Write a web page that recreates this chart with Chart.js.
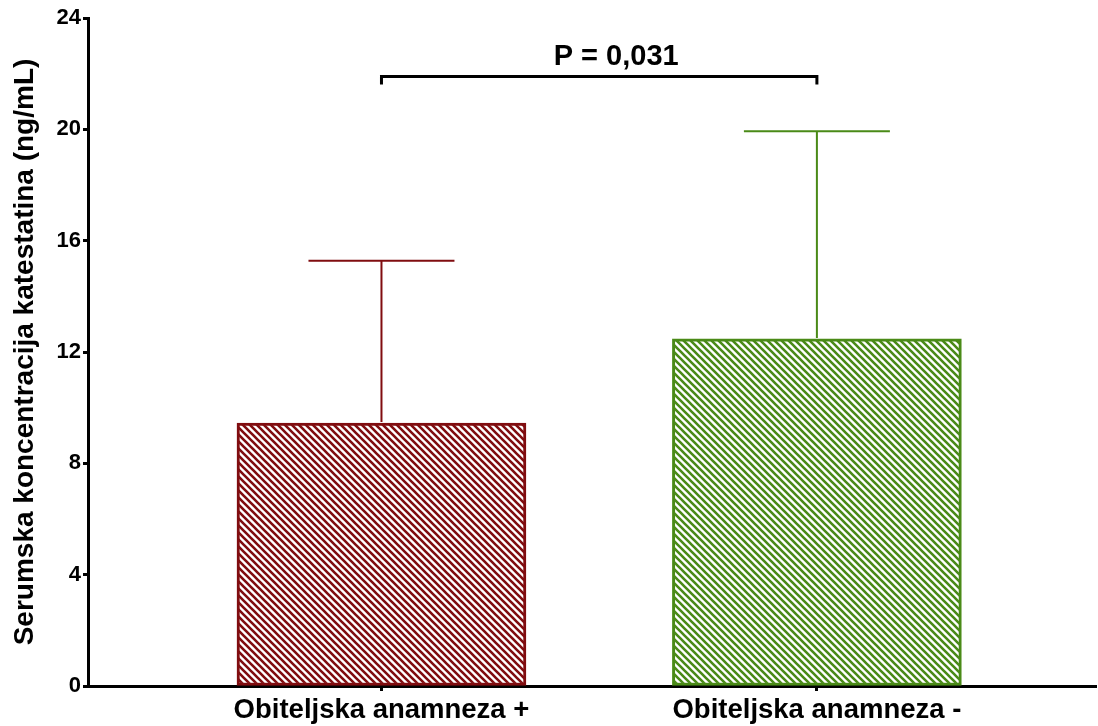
<!DOCTYPE html>
<html>
<head>
<meta charset="utf-8">
<script src="https://cdn.jsdelivr.net/npm/chart.js@4/dist/chart.umd.min.js"></script>
<style>
  html, body { margin: 0; padding: 0; background: #fff; }
  #wrap { width: 1098px; height: 726px; }
</style>
</head>
<body>
<div id="wrap"><canvas id="chart" width="1098" height="726"></canvas></div>
<script>
// data
const categories = ["Obiteljska anamneza +", "Obiteljska anamneza -"];
const means = [9.45, 12.47];
const sds = [5.83, 7.46];
const yTicks = [0, 4, 8, 12, 16, 20, 24];
const pLabel = "P = 0,031";
const bracketValue = 21.9;

const colors = ["#800d10", "#4a8a17"];
const FONT = "'Liberation Sans', Arial, sans-serif";

function hatch(color) {
  const s = 7;
  const c = document.createElement("canvas");
  c.width = s; c.height = s;
  const g = c.getContext("2d");
  g.fillStyle = "#fff";
  g.fillRect(0, 0, s, s);
  g.strokeStyle = color;
  g.lineWidth = 2.6;
  g.beginPath();
  g.moveTo(-s, 0); g.lineTo(s, 2 * s);
  g.moveTo(0, 0); g.lineTo(s, s);
  g.moveTo(0, -s); g.lineTo(2 * s, s);
  g.stroke();
  return g.createPattern(c, "repeat");
}

const errorBars = {
  id: "errorBars",
  afterDatasetsDraw(chart) {
    const ctx = chart.ctx;
    const y = chart.scales.y;
    const meta = chart.getDatasetMeta(0);
    meta.data.forEach((bar, i) => {
      const top = y.getPixelForValue(means[i] + sds[i]);
      ctx.save();
      ctx.strokeStyle = colors[i];
      ctx.lineWidth = 2;
      ctx.beginPath();
      ctx.moveTo(bar.x, bar.y - 1);
      ctx.lineTo(bar.x, top);
      ctx.moveTo(bar.x - 73, top);
      ctx.lineTo(bar.x + 73, top);
      ctx.stroke();
      ctx.restore();
    });
    // significance bracket
    const b = meta.data;
    const by = y.getPixelForValue(bracketValue);
    ctx.save();
    ctx.strokeStyle = "#000";
    ctx.lineWidth = 3;
    ctx.beginPath();
    ctx.moveTo(b[0].x, by + 8);
    ctx.lineTo(b[0].x, by);
    ctx.lineTo(b[1].x, by);
    ctx.lineTo(b[1].x, by + 8);
    ctx.stroke();
    ctx.fillStyle = "#000";
    ctx.font = "bold 29px " + FONT;
    ctx.textAlign = "center";
    ctx.textBaseline = "middle";
    ctx.fillText(pLabel, (b[0].x + b[1].x) / 2 + 17, by - 19);
    ctx.restore();
  }
};

new Chart(document.getElementById("chart"), {
  type: "bar",
  data: {
    datasets: [{
      data: means.map((m, i) => ({ x: i + 1, y: m })),
      backgroundColor: colors.map(hatch),
      borderColor: colors,
      borderWidth: 3,
      borderSkipped: false,
      barThickness: 289
    }]
  },
  options: {
    responsive: false,
    animation: false,
    events: [],
    layout: { padding: { top: 18, right: 2, left: 0, bottom: 0 } },
    plugins: { legend: { display: false }, tooltip: { enabled: false } },
    scales: {
      x: {
        type: "linear",
        min: 0.326,
        max: 2.641,
        offset: false,
        afterBuildTicks: axis => { axis.ticks = categories.map((c, i) => ({ value: i + 1 })); },
        afterFit: axis => { axis.height = 40; },
        ticks: {
          callback: v => categories[v - 1],
          color: "#000",
          font: { family: FONT, size: 27.5, weight: "bold" },
          padding: 3,
          maxRotation: 0,
          autoSkip: false
        },
        grid: { offset: false, drawOnChartArea: false, drawTicks: true, tickLength: 5, tickWidth: 3, color: "#000" },
        border: { width: 3, color: "#000" }
      },
      y: {
        min: 0,
        max: 24,
        afterBuildTicks: axis => { axis.ticks = yTicks.map(v => ({ value: v })); },
        afterFit: axis => { axis.width = 88; },
        ticks: {
          color: "#000",
          font: { family: FONT, size: 22, weight: "bold" },
          padding: 2
        },
        grid: { drawOnChartArea: false, drawTicks: true, tickLength: 5, tickWidth: 3, color: "#000" },
        border: { width: 3, color: "#000" },
        title: {
          display: true,
          text: "Serumska koncentracija katestatina (ng/mL)",
          color: "#000",
          font: { family: FONT, size: 28, weight: "bold" },
          padding: { top: 8, bottom: 0 }
        }
      }
    }
  },
  plugins: [errorBars]
});
</script>
</body>
</html>
